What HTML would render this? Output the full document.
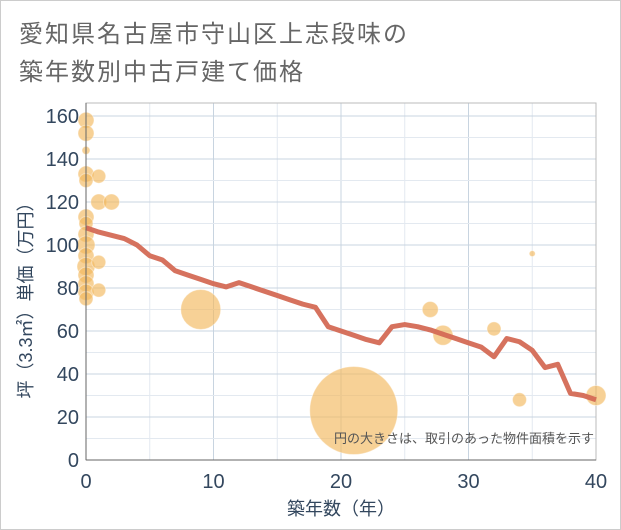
<!DOCTYPE html>
<html><head><meta charset="utf-8"><style>
body{margin:0;background:#fff;}
#wrap{position:relative;width:619px;height:528px;border:1px solid #ccc;background:#fff;overflow:hidden;font-family:"Liberation Sans","Noto Sans CJK JP",sans-serif;}
.t{position:absolute;left:18px;font-size:24px;color:#666;letter-spacing:2px;}
</style></head><body>
<div id="wrap">
<div class="t" style="top:13px">愛知県名古屋市守山区上志段味の</div>
<div class="t" style="top:51px">築年数別中古戸建て価格</div>
<svg id="chart" width="621" height="530" style="position:absolute;left:-1px;top:-1px"></svg>
</div>
<script>
const lineYears=[0,1,2,3,4,5,6,7,8,9,10,11,12,13,14,15,16,17,18,19,20,21,22,23,24,25,26,27,28,29,30,31,32,33,34,35,36,37,38,39,40];
const lineValues=[108,106,104.5,103,100,95,93,88,86,84,82,80.5,82.5,80.5,78.5,76.5,74.5,72.5,71,62,60,58,56,54.5,62,63,62,60.5,58.5,56.5,54.5,52.5,48,56.5,55,51,43,44.5,31,30,28];
const bubbleYears=[0,0,0,0,1,0,1,2,0,0,0,0,0,0,1,0,0,0,1,0,9,21,27,28,32,34,35,40];
const bubblePrices=[158,152,144,133,132,130,120,120,113,110,105,100,95,90,92,86,82,78,79,75,70,23,70,58,61,28,96,30];
const bubbleSizes=[8,8,4,8,7,7,8,8,8,7,8,9,8,9,7,8,8,8,7,7,20,44,8,10,7,7,3,10];
const xTicks=[0,10,20,30,40];
const yTicks=[0,20,40,60,80,100,120,140,160];
const X0=86,X1=596,Y0=460,YT=103;
const xs=v=>X0+v*(X1-X0)/40;
const ys=v=>Y0-v*2.15;
const svg=document.getElementById('chart');
const NS='http://www.w3.org/2000/svg';
function mk(tag,attrs,parent){const e=document.createElementNS(NS,tag);for(const k in attrs)e.setAttribute(k,attrs[k]);(parent||svg).appendChild(e);return e;}
const grid=mk('g',{});


for(let v=5;v<40;v+=5){const l=mk('line',{x1:xs(v),x2:xs(v),y1:YT,y2:Y0,stroke:v%10?'#e3e9f0':'#c8d4e0','stroke-width':1},grid);

}
for(let v=10;v<=160;v+=10){const l=mk('line',{x1:X0,x2:X1,y1:ys(v),y2:ys(v),stroke:v%20?'#e3e9f0':'#c8d4e0','stroke-width':1},grid);

}
const frame=mk('rect',{x:X0,y:YT,width:X1-X0,height:Y0-YT,fill:'none',stroke:'#bbb'});


const bg=mk('g',{});


bubbleYears.forEach((y,i)=>{const c=mk('circle',{cx:xs(y),cy:ys(bubblePrices[i]),r:bubbleSizes[i],fill:'#f2b85e','fill-opacity':0.65,stroke:'#fff','stroke-opacity':0.4},bg);

});
const pl=mk('polyline',{points:lineYears.map((y,i)=>xs(y)+','+ys(lineValues[i])).join(' '),fill:'none',stroke:'#d46a55','stroke-width':5,'stroke-linejoin':'round','stroke-opacity':0.95});


const ax=mk('line',{x1:X0,x2:X0,y1:YT,y2:Y0,stroke:'#666'});


const bx=mk('line',{x1:X0,x2:X1,y1:Y0,y2:Y0,stroke:'#666'});


xTicks.forEach(v=>{const t=mk('text',{x:xs(v),y:488,'text-anchor':'middle','font-size':20,fill:'#33475e'});t.textContent=v;

});
yTicks.forEach(v=>{const t=mk('text',{x:79,y:ys(v)+7,'text-anchor':'end','font-size':20,fill:'#33475e'});t.textContent=v;

});
const xt=mk('text',{x:341,y:515,'text-anchor':'middle','font-size':18,fill:'#33475e'});xt.textContent='築年数（年）';


const yt=mk('text',{x:0,y:0,'text-anchor':'middle','font-size':18,fill:'#33475e',transform:'translate(32,296) rotate(-90)'});yt.textContent='坪（3.3㎡）単価（万円）';


const nt=mk('text',{x:594,y:443,'text-anchor':'end','font-size':13,fill:'#555'});nt.textContent='円の大きさは、取引のあった物件面積を示す';


</script>
</body></html>
